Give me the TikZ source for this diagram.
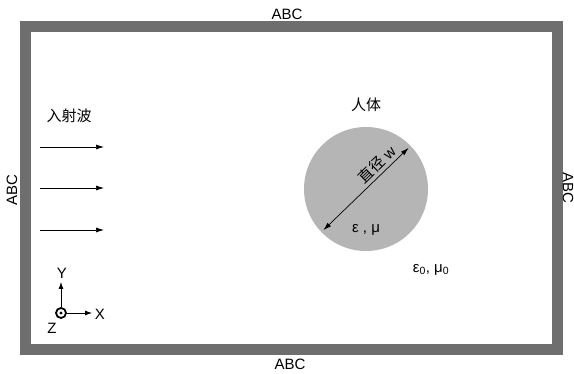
\documentclass[tikz,border=0pt]{standalone}
\usepackage{fontspec}
\setmainfont{Liberation Sans}
\newfontfamily\cjk{Noto Sans CJK SC}
\usepackage{tikz}
\usetikzlibrary{arrows.meta, positioning}
\definecolor{abcgray}{RGB}{110,110,110}
\definecolor{bodygray}{RGB}{181,181,181}

\begin{document}
\begin{tikzpicture}[x=1pt, y=-1pt, font=\fontsize{15}{17}\selectfont,
    wave/.style={-{Latex[length=8pt,width=5pt]}, line width=0.7pt},
    axis/.style={-{Latex[length=7pt,width=5pt]}, line width=0.8pt}]
\useasboundingbox (0,0) rectangle (574,374);
\draw[line width=11pt, draw=abcgray] (25,26.5) rectangle (557,349.5); %ABC
\node (abctop) at (287,14) {ABC};
\node (abcbot) at (290,364) {ABC};
\node[rotate=90] (abcleft) at (12,190) {ABC};
\node[rotate=-90] (abcright) at (568,188) {ABC};
\node (wave) at (69,116) {\cjk 入射波};
\coordinate (w1s) at (40,147); \coordinate (w1e) at (104,147);
\coordinate (w2s) at (40,188); \coordinate (w2e) at (104,188);
\coordinate (w3s) at (40,230); \coordinate (w3e) at (104,230);
\draw[wave] (w1s) -- (w1e);
\draw[wave] (w2s) -- (w2e);
\draw[wave] (w3s) -- (w3e);
\node[circle, fill=bodygray, minimum size=124pt, inner sep=0pt] (body) at (366,189) {}; %body
\node (bodylabel) at (366,105) {\cjk 人体};
\draw[{Latex[length=8pt,width=5pt]}-{Latex[length=8pt,width=5pt]}, line width=0.7pt,
    shorten <=3pt, shorten >=3pt] (body.224) -- (body.44)
    node[pos=0.7, sloped, above, inner sep=3pt] (diam) {{\cjk 直径}\ w};
\node (inner) at (366,230) {ε , μ};
\node (outer) at (431,270) {ε\textsubscript{0}, μ\textsubscript{0}};
\node[circle, draw, line width=1.8pt, minimum size=10pt, inner sep=0pt] (zax) at (61,313) {};
\fill (zax) circle (1.6pt);
\coordinate (yend) at (61,282);
\coordinate (xend) at (92,313);
\draw[axis] (zax) -- (yend);
\draw[axis] (zax) -- (xend);
\node (ylab) at (62,273) {Y};
\node (xlab) at (100,314) {X};
\node (zlab) at (52,328) {Z};
\end{tikzpicture}
\end{document}
